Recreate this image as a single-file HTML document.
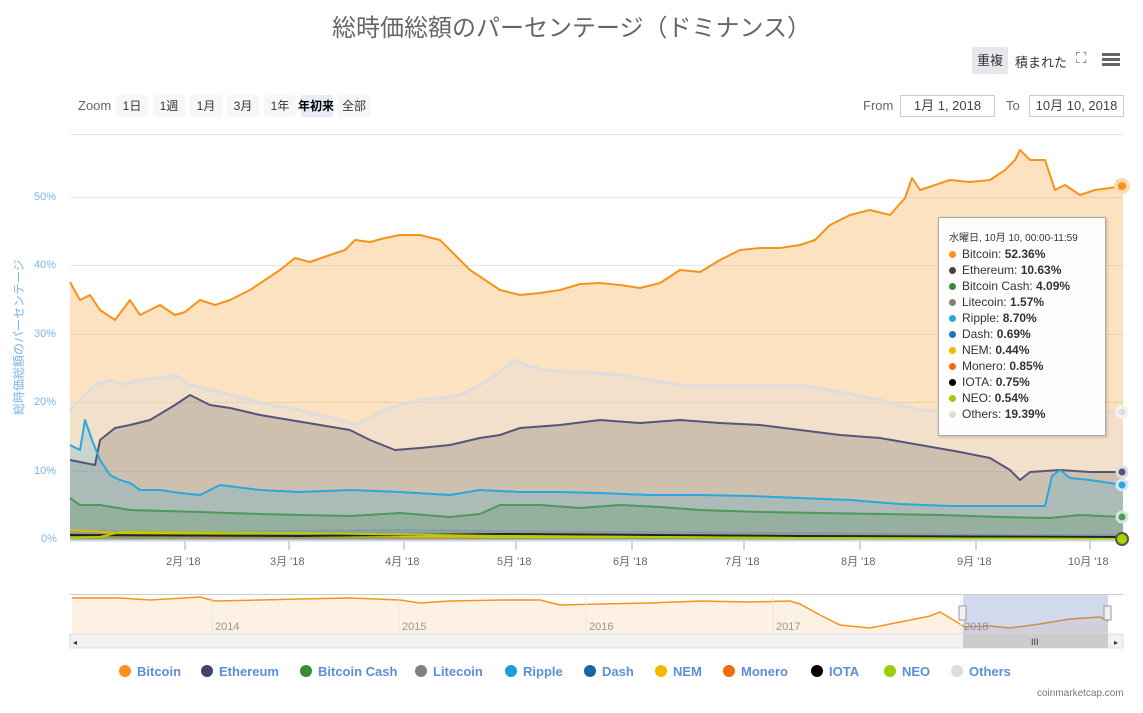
<!DOCTYPE html>
<html><head><meta charset="utf-8"><style>
body{margin:0;width:1143px;height:713px;background:#fff;font-family:"Liberation Sans","Noto Sans CJK JP",sans-serif;position:relative;overflow:hidden}
.a{position:absolute;white-space:nowrap}
.btn{position:absolute;top:95px;height:22px;line-height:22px;background:#f7f7f7;font-size:12px;color:#333;text-align:center;border-radius:2px;white-space:nowrap;overflow:visible}
.box{position:absolute;top:95px;height:20px;line-height:20px;border:1px solid #ccc;font-size:13px;color:#444;text-align:center}
.yl{position:absolute;left:34px;font-size:11px;color:#7cb5ec}
.xl{position:absolute;top:553px;font-size:11px;color:#666}
.lg{position:absolute;top:664px;font-size:13px;font-weight:bold;color:#5b8fd6}
.lg i{display:inline-block;width:12px;height:12px;border-radius:6px;margin-right:6px;vertical-align:-1px}
.tt{position:absolute;left:938px;top:217px;width:166px;height:217px;background:rgba(255,255,255,.95);border:1px solid #aaa;box-shadow:1px 1px 3px rgba(0,0,0,.2);font-size:12px;color:#333}
.tt div{height:16px;line-height:16px;padding-left:10px}
.tt i{display:inline-block;width:7px;height:7px;border-radius:4px;margin-right:6px}
</style></head><body>
<div class="a" style="left:0;width:1143px;top:8px;text-align:center;font-size:24px;color:#666">総時価総額のパーセンテージ（ドミナンス）</div>
<div class="a" style="left:972px;top:47px;width:36px;height:27px;background:#e6e7ea;border-radius:2px;font-size:13px;line-height:27px;text-align:center;color:#333">重複</div>
<div class="a" style="left:1015px;top:52px;font-size:13px;color:#333">積まれた</div>
<div class="a" style="left:1076px;top:50px;font-size:15px;color:#666">⛶</div>
<div class="a" style="left:1102px;top:53px;width:18px;height:3px;background:#666;box-shadow:0 5px 0 #666,0 10px 0 #666"></div>
<div class="a" style="left:78px;top:98px;font-size:13px;color:#666">Zoom</div>
<div class="btn" style="left:116px;width:32px">1日</div>
<div class="btn" style="left:153px;width:32px">1週</div>
<div class="btn" style="left:190px;width:32px">1月</div>
<div class="btn" style="left:227px;width:32px">3月</div>
<div class="btn" style="left:264px;width:32px">1年</div>
<div class="btn" style="left:301px;width:32px;background:#e6ebf5;font-weight:bold;color:#000"><span style="margin-left:-3px">年初来</span></div>
<div class="btn" style="left:338px;width:32px">全部</div>
<div class="a" style="left:863px;top:98px;font-size:13px;color:#666">From</div>
<div class="box" style="left:900px;width:93px">1月 1, 2018</div>
<div class="a" style="left:1006px;top:98px;font-size:13px;color:#666">To</div>
<div class="box" style="left:1029px;width:93px">10月 10, 2018</div>

<div class="yl" style="top:191px">50%</div>
<div class="yl" style="top:259px">40%</div>
<div class="yl" style="top:328px">30%</div>
<div class="yl" style="top:396px">20%</div>
<div class="yl" style="top:465px">10%</div>
<div class="yl" style="top:533px;left:41px">0%</div>
<div class="a" style="left:10px;top:415px;transform:rotate(-90deg);transform-origin:0 0;font-size:12px;color:#7cb5ec">総時価総額のパーセンテージ</div>

<svg class="a" style="left:0;top:0" width="1143" height="713">
<g stroke="#e6e6e6" stroke-width="1">
<line x1="70" x2="1123" y1="134.5" y2="134.5"/><line x1="70" x2="1123" y1="197.5" y2="197.5"/><line x1="70" x2="1123" y1="265.5" y2="265.5"/><line x1="70" x2="1123" y1="334.5" y2="334.5"/><line x1="70" x2="1123" y1="402.5" y2="402.5"/><line x1="70" x2="1123" y1="471.5" y2="471.5"/></g>
<g stroke-linejoin="round" stroke-width="2">
<polygon fill="#f7931a" fill-opacity=".27" stroke="none" points="70,540 70,282 80,300 90,295 100,310 115,320 130,300 140,315 160,305 175,315 185,312 200,300 215,305 230,300 250,290 265,280 280,270 295,258 310,262 330,255 345,250 355,240 370,242 385,238 400,235 420,235 440,240 455,255 470,270 485,280 500,290 520,295 540,293 560,290 580,284 600,283 620,285 640,288 660,283 680,270 700,272 720,260 740,250 760,248 780,248 800,245 815,240 830,225 850,215 870,210 890,215 905,198 912,178 920,190 935,185 950,180 970,182 990,180 1005,170 1015,160 1020,150 1030,160 1045,160 1055,190 1065,185 1080,195 1095,190 1110,188 1123,186 1123,540"/>
<polygon fill="#ddd" fill-opacity=".35" stroke="none" points="70,540 70,410 80,400 95,385 110,380 125,385 140,380 160,378 175,375 190,385 210,390 230,395 250,400 270,405 290,408 320,415 340,420 355,425 365,420 385,410 400,405 420,400 440,398 460,395 480,385 500,372 515,360 525,365 545,370 565,372 590,372 620,375 650,380 680,385 720,385 760,385 800,385 840,392 880,400 920,410 960,412 1000,410 1040,415 1080,413 1123,412 1123,540"/>
<polygon fill="#434348" fill-opacity=".2" stroke="none" points="70,540 70,460 80,462 95,465 100,440 115,428 130,425 150,420 175,405 190,395 210,405 230,408 260,415 290,420 320,425 350,430 370,440 395,450 420,448 450,445 480,438 500,435 520,428 560,425 600,420 640,423 680,420 720,423 760,425 800,430 840,435 880,438 920,445 960,452 990,458 1010,470 1020,480 1030,472 1060,470 1090,472 1123,472 1123,540"/>
<polygon fill="#2aa7dc" fill-opacity=".2" stroke="none" points="70,540 70,445 80,450 85,420 92,440 100,460 110,475 120,480 130,483 140,490 160,490 180,493 200,495 220,485 260,490 300,492 350,490 400,492 450,495 480,490 520,492 560,492 600,493 650,495 700,495 750,496 800,498 850,500 900,504 950,506 1000,506 1045,506 1052,476 1060,470 1070,478 1090,480 1110,483 1123,485 1123,540"/>
<polygon fill="#3a8a3a" fill-opacity=".2" stroke="none" points="70,540 70,498 80,505 100,505 130,510 200,512 260,514 300,515 350,516 400,513 450,517 480,514 500,505 540,505 580,508 620,505 660,507 700,510 760,512 820,513 880,514 940,515 1000,517 1050,518 1080,515 1123,517 1123,540"/>
<polygon fill="#777" fill-opacity=".25" stroke="none" points="70,540 70,531 200,532 400,530 600,532 800,533 1000,535 1123,535 1123,540"/>
<polygon fill="#b08a20" fill-opacity=".35" stroke="none" points="70,540 70,533 400,535 800,537 1123,538 1123,540"/>
<polyline fill="none" stroke="#f7931a" points="70,282 80,300 90,295 100,310 115,320 130,300 140,315 160,305 175,315 185,312 200,300 215,305 230,300 250,290 265,280 280,270 295,258 310,262 330,255 345,250 355,240 370,242 385,238 400,235 420,235 440,240 455,255 470,270 485,280 500,290 520,295 540,293 560,290 580,284 600,283 620,285 640,288 660,283 680,270 700,272 720,260 740,250 760,248 780,248 800,245 815,240 830,225 850,215 870,210 890,215 905,198 912,178 920,190 935,185 950,180 970,182 990,180 1005,170 1015,160 1020,150 1030,160 1045,160 1055,190 1065,185 1080,195 1095,190 1110,188 1123,186"/>
<polyline fill="none" stroke="#ddd" stroke-width="3" points="70,410 80,400 95,385 110,380 125,385 140,380 160,378 175,375 190,385 210,390 230,395 250,400 270,405 290,408 320,415 340,420 355,425 365,420 385,410 400,405 420,400 440,398 460,395 480,385 500,372 515,360 525,365 545,370 565,372 590,372 620,375 650,380 680,385 720,385 760,385 800,385 840,392 880,400 920,410 960,412 1000,410 1040,415 1080,413 1123,412"/>
<polyline fill="none" stroke="#55557a" points="70,460 80,462 95,465 100,440 115,428 130,425 150,420 175,405 190,395 210,405 230,408 260,415 290,420 320,425 350,430 370,440 395,450 420,448 450,445 480,438 500,435 520,428 560,425 600,420 640,423 680,420 720,423 760,425 800,430 840,435 880,438 920,445 960,452 990,458 1010,470 1020,480 1030,472 1060,470 1090,472 1123,472"/>
<polyline fill="none" stroke="#2aa7dc" points="70,445 80,450 85,420 92,440 100,460 110,475 120,480 130,483 140,490 160,490 180,493 200,495 220,485 260,490 300,492 350,490 400,492 450,495 480,490 520,492 560,492 600,493 650,495 700,495 750,496 800,498 850,500 900,504 950,506 1000,506 1045,506 1052,476 1060,470 1070,478 1090,480 1110,483 1123,485"/>
<polyline fill="none" stroke="#4a9a5a" points="70,498 80,505 100,505 130,510 200,512 260,514 300,515 350,516 400,513 450,517 480,514 500,505 540,505 580,508 620,505 660,507 700,510 760,512 820,513 880,514 940,515 1000,517 1050,518 1080,515 1123,517"/>
<polyline fill="none" stroke="#8a9aaa" points="70,531 200,532 400,530 600,532 800,533 1000,535 1123,535"/>
<polyline fill="none" stroke="#e8b800" points="70,530 120,533 300,536 500,537 800,537 1123,538"/>
<polyline fill="none" stroke="#222" points="70,535 300,536 500,534 800,536 1123,537"/>
<polyline fill="none" stroke="#aad400" points="70,538 100,537 120,532 300,533 500,536 800,538 1123,539"/>
<line x1="70" x2="1123" y1="540.5" y2="540.5" stroke="#ccd6eb"/>
<g stroke="#ccd6eb"><line x1="185" x2="185" y1="540" y2="550"/><line x1="289" x2="289" y1="540" y2="550"/><line x1="404" x2="404" y1="540" y2="550"/><line x1="516" x2="516" y1="540" y2="550"/><line x1="632" x2="632" y1="540" y2="550"/><line x1="744" x2="744" y1="540" y2="550"/><line x1="860" x2="860" y1="540" y2="550"/><line x1="976" x2="976" y1="540" y2="550"/><line x1="1090" x2="1090" y1="540" y2="550"/></g>
<circle cx="1122" cy="186" r="6" fill="#f7931a" stroke="#fcd9b0" stroke-width="4"/>
<circle cx="1122" cy="412" r="5" fill="#ddd" stroke="#f3f3f3" stroke-width="3"/>
<circle cx="1122" cy="472" r="5" fill="#55557a" stroke="#ddd" stroke-width="3"/>
<circle cx="1122" cy="485" r="5" fill="#2aa7dc" stroke="#cdeaf6" stroke-width="3"/>
<circle cx="1122" cy="517" r="5" fill="#4a9a5a" stroke="#d3e8d8" stroke-width="3"/>
<circle cx="1122" cy="539" r="6" fill="#aad400" stroke="#555" stroke-width="2"/>
</g>
<!-- navigator -->
<line x1="70" x2="1123" y1="594.5" y2="594.5" stroke="#ccc"/>
<polygon fill="#fdf1e3" points="72,634 72,598 120,598 150,600 200,597 215,601 260,600 300,599 350,598 400,600 420,603 450,601 500,600 540,600 560,605 600,604 650,603 700,601 750,602 790,601 800,604 820,615 840,625 870,628 900,622 930,616 940,612 955,621 965,627 990,626 1010,628 1040,624 1070,619 1100,617 1108,621 1108,634"/>
<polyline fill="none" stroke="#f7931a" stroke-width="1.5" points="72,598 120,598 150,600 200,597 215,601 260,600 300,599 350,598 400,600 420,603 450,601 500,600 540,600 560,605 600,604 650,603 700,601 750,602 790,601 800,604 820,615 840,625 870,628 900,622 930,616 940,612 955,621 965,627 990,626 1010,628 1040,624 1070,619 1100,617 1108,621"/>
<g stroke="#e6e6e6"><line x1="212" x2="212" y1="596" y2="634"/><line x1="399" x2="399" y1="596" y2="634"/><line x1="586" x2="586" y1="596" y2="634"/><line x1="773" x2="773" y1="596" y2="634"/><line x1="961" x2="961" y1="596" y2="634"/></g>
<g font-size="11" fill="#999" font-family="Liberation Sans,sans-serif"><text x="215" y="630">2014</text><text x="402" y="630">2015</text><text x="589" y="630">2016</text><text x="776" y="630">2017</text><text x="964" y="630">2018</text></g>
<rect x="963" y="595" width="145" height="39" fill="rgba(102,133,194,.3)"/>
<rect x="959" y="606" width="7" height="14" fill="#f2f2f2" stroke="#999"/>
<rect x="1104" y="606" width="7" height="14" fill="#f2f2f2" stroke="#999"/>
<rect x="70" y="634" width="1053" height="14" fill="#f2f2f2" stroke="#ddd"/>
<rect x="963" y="634" width="145" height="14" fill="#ccc"/>
<text x="1031" y="645" font-size="9" fill="#333">III</text>
<text x="73" y="645" font-size="8" fill="#333">◂</text><text x="1114" y="645" font-size="8" fill="#333">▸</text>
</svg>
<div class="xl" style="left:166px">2月 '18</div><div class="xl" style="left:270px">3月 '18</div><div class="xl" style="left:385px">4月 '18</div><div class="xl" style="left:497px">5月 '18</div><div class="xl" style="left:613px">6月 '18</div><div class="xl" style="left:725px">7月 '18</div><div class="xl" style="left:841px">8月 '18</div><div class="xl" style="left:957px">9月 '18</div><div class="xl" style="left:1068px">10月 '18</div>

<div class="tt">
<div style="font-size:10px;margin-top:14px;height:14px;line-height:14px">水曜日, 10月 10, 00:00-11:59</div>
<div><i style="background:#f7931a"></i>Bitcoin: <b>52.36%</b></div>
<div><i style="background:#434348"></i>Ethereum: <b>10.63%</b></div>
<div><i style="background:#3a8a3a"></i>Bitcoin Cash: <b>4.09%</b></div>
<div><i style="background:#808080"></i>Litecoin: <b>1.57%</b></div>
<div><i style="background:#2aa7dc"></i>Ripple: <b>8.70%</b></div>
<div><i style="background:#1c75bc"></i>Dash: <b>0.69%</b></div>
<div><i style="background:#f5b800"></i>NEM: <b>0.44%</b></div>
<div><i style="background:#f26a10"></i>Monero: <b>0.85%</b></div>
<div><i style="background:#000"></i>IOTA: <b>0.75%</b></div>
<div><i style="background:#9acd0a"></i>NEO: <b>0.54%</b></div>
<div><i style="background:#ddd"></i>Others: <b>19.39%</b></div>
</div>

<div class="lg" style="left:119px"><i style="background:#f7931a"></i>Bitcoin</div>
<div class="lg" style="left:201px"><i style="background:#434368"></i>Ethereum</div>
<div class="lg" style="left:300px"><i style="background:#3a8a3a"></i>Bitcoin Cash</div>
<div class="lg" style="left:415px"><i style="background:#808080"></i>Litecoin</div>
<div class="lg" style="left:505px"><i style="background:#1a9fdc"></i>Ripple</div>
<div class="lg" style="left:584px"><i style="background:#1565a8"></i>Dash</div>
<div class="lg" style="left:655px"><i style="background:#f5b800"></i>NEM</div>
<div class="lg" style="left:723px"><i style="background:#f26a10"></i>Monero</div>
<div class="lg" style="left:811px"><i style="background:#000"></i>IOTA</div>
<div class="lg" style="left:884px"><i style="background:#9acd0a"></i>NEO</div>
<div class="lg" style="left:951px"><i style="background:#ddd"></i>Others</div>
<div class="a" style="left:1037px;top:688px;font-size:10px;color:#777">coinmarketcap.com</div>
</body></html>
